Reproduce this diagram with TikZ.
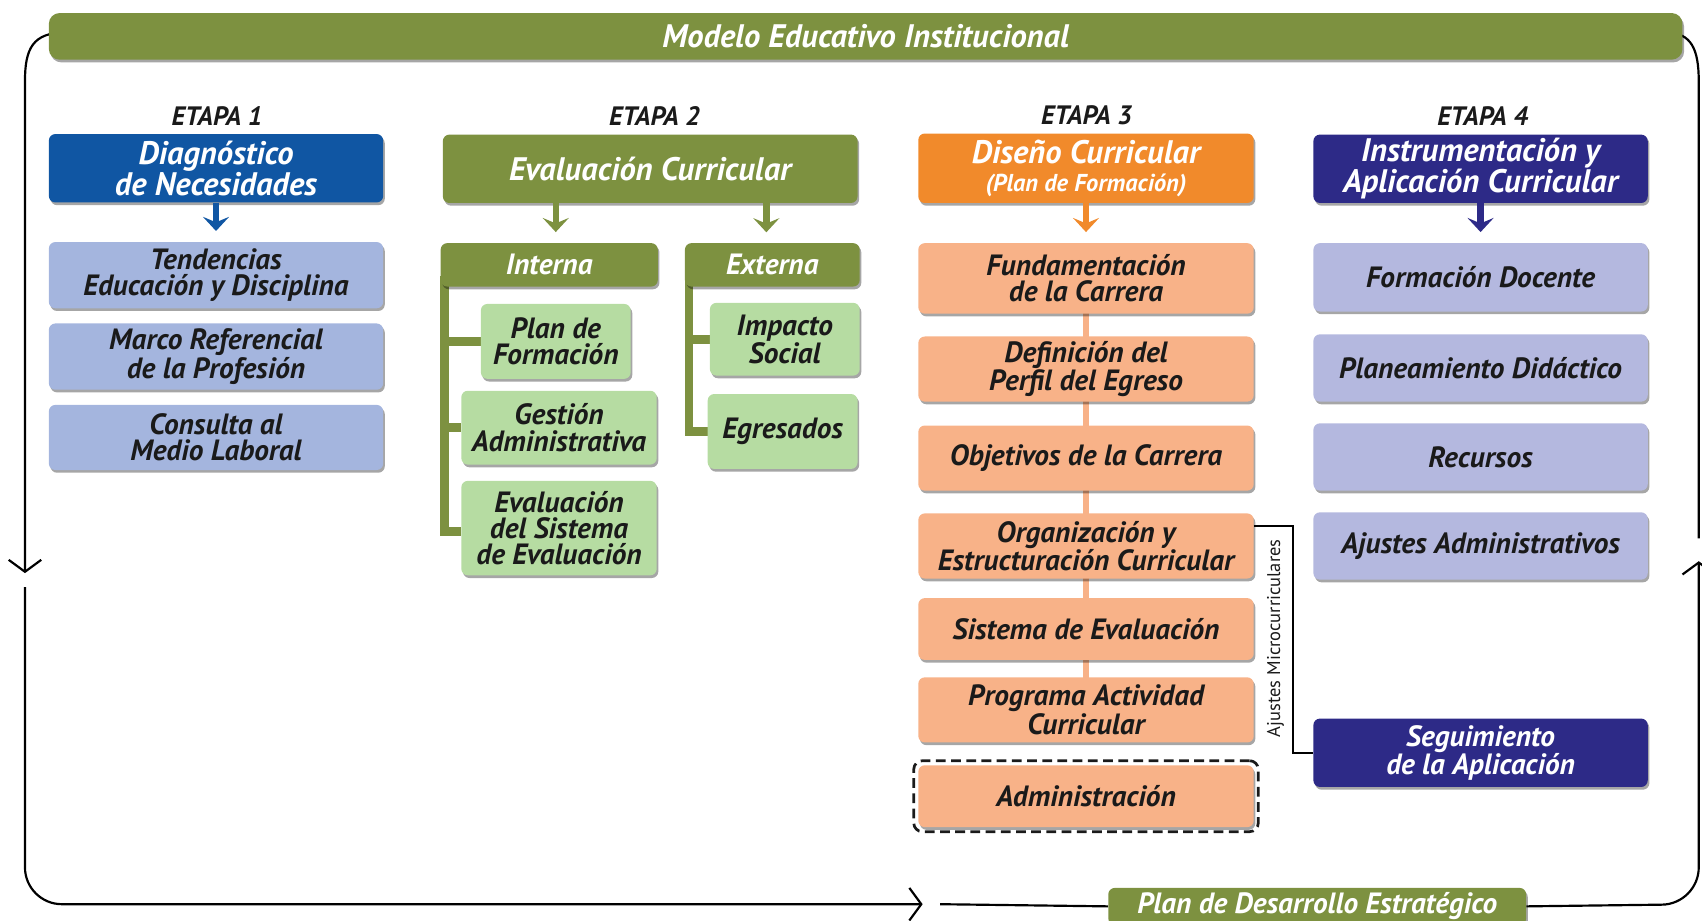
\documentclass[tikz,border=0pt]{standalone}
\usepackage{fontspec}
\setmainfont{PT Sans}
\usetikzlibrary{arrows.meta,shadows,backgrounds,fit}
\definecolor{olive}{RGB}{125,145,64}
\definecolor{diagblue}{RGB}{16,86,163}
\definecolor{lblue}{RGB}{164,181,222}
\definecolor{lgreen}{RGB}{182,220,162}
\definecolor{dorange}{RGB}{241,138,43}
\definecolor{salmon}{RGB}{248,178,136}
\definecolor{navy}{RGB}{45,42,135}
\definecolor{lavender}{RGB}{180,184,223}
\definecolor{ink}{RGB}{26,26,26}
\newcommand\hdrfont{\fontsize{30}{26}\selectfont\bfseries\itshape}
\newcommand\boxfont{\fontsize{27}{24}\selectfont\bfseries\itshape}
\newcommand\etfont{\fontsize{24.5}{26}\selectfont\bfseries\itshape}
\newcommand\tabfont{\fontsize{27}{28}\selectfont\bfseries\itshape}
\newcommand\planfont{\fontsize{27}{28}\selectfont\bfseries\itshape}
\newcommand\ajfont{\fontsize{17}{18}\selectfont}
\tikzset{
  anybox/.style={rounded corners=6pt, align=center, inner sep=2pt,
    drop shadow={shadow xshift=1.5pt, shadow yshift=-2.5pt, fill=black, opacity=0.35}},
  hdr/.style={anybox, text=white, font=\hdrfont},
  sub/.style={anybox, text=ink, font=\boxfont},
  etapa/.style={text=ink, font=\etfont},
  harrow/.style={line width=6pt, shorten >=10pt, -{Stealth[length=13pt,width=24pt,inset=5pt]}},
  gbar/.style={olive, line width=8pt},
  loopline/.style={black, line width=2pt},
  loopend/.style={loopline, -{Straight Barb[length=11pt,width=30pt,line width=2pt]}},
}
\begin{document}
\begin{tikzpicture}[x=1pt,y=-1pt]
\useasboundingbox (0,0) rectangle (1568,848);
% banner
\node[hdr, fill=olive, minimum width=1505pt, minimum height=43pt, rounded corners=10pt] (ban) at (797.5,33.5) {Modelo Educativo Institucional};
% etapas
\node[etapa] (e1) at (200,107) {ETAPA 1};
\node[etapa] (e2) at (603,107) {ETAPA 2};
\node[etapa] (e3) at (1001,106) {ETAPA 3};
\node[etapa] (e4) at (1366,107) {ETAPA 4};
% column 1
\node[hdr, fill=diagblue, minimum width=308pt, minimum height=63pt] (h1) at (199,155) {Diagnóstico\\de Necesidades};
\node[sub, fill=lblue, minimum width=308pt, minimum height=61pt] (t1) at (199,253.5) {Tendencias\\Educación y Disciplina};
\node[sub, fill=lblue, minimum width=308pt, minimum height=61pt] (t2) at (199,328.5) {Marco Referencial\\de la Profesión};
\node[sub, fill=lblue, minimum width=308pt, minimum height=60pt] (t3) at (199,403) {Consulta al\\Medio Laboral};
% column 2
\node[hdr, fill=olive, minimum width=382pt, minimum height=63pt] (h2) at (599,155.5) {Evaluación Curricular};
\node[hdr, fill=olive, minimum width=200pt, minimum height=40pt, font=\tabfont] (int) at (506,244) {Interna};
\node[hdr, fill=olive, minimum width=161pt, minimum height=40pt, font=\tabfont] (ext) at (711.5,244) {Externa};
\node[sub, fill=lgreen, minimum width=138pt, minimum height=69pt] (pf) at (512,314.5) {Plan de\\Formación};
\node[sub, fill=lgreen, minimum width=180pt, minimum height=68pt] (ga) at (515,394) {Gestión\\Administrativa};
\node[sub, fill=lgreen, minimum width=180pt, minimum height=87pt] (es) at (515,486.5) {Evaluación\\del Sistema\\de Evaluación};
\node[sub, fill=lgreen, minimum width=138pt, minimum height=67pt] (im) at (723,312.5) {Impacto\\Social};
\node[sub, fill=lgreen, minimum width=138pt, minimum height=69pt] (eg) at (721,397.5) {Egresados};
% column 3
\node[hdr, fill=dorange, minimum width=309pt, minimum height=64pt] (h3) at (1000.5,155) {Diseño Curricular\\{\fontsize{22.5}{24}\selectfont (Plan de Formación)}};
\node[sub, fill=salmon, minimum width=309pt, minimum height=65pt] (f1) at (1000.5,256.5) {Fundamentación\\de la Carrera};
\node[sub, fill=salmon, minimum width=309pt, minimum height=60pt] (f2) at (1000.5,340) {Definición del\\Perfil del Egreso};
\node[sub, fill=salmon, minimum width=309pt, minimum height=60pt] (f3) at (1000.5,422) {Objetivos de la Carrera};
\node[sub, fill=salmon, minimum width=309pt, minimum height=60pt] (f4) at (1000.5,503) {Organización y\\Estructuración Curricular};
\node[sub, fill=salmon, minimum width=309pt, minimum height=57pt] (f5) at (1000.5,579.5) {Sistema de Evaluación};
\node[sub, fill=salmon, minimum width=309pt, minimum height=60pt] (f6) at (1000.5,654) {Programa Actividad\\Curricular};
\node[sub, fill=salmon, minimum width=309pt, minimum height=57pt] (f7) at (1000.5,733.5) {Administración};
\node[draw=ink, dashed, dash pattern=on 9pt off 5pt, line width=2.5pt, rounded corners=8pt, fit=(f7), inner sep=4pt] (adm) {};
% column 4
\node[hdr, fill=navy, minimum width=308pt, minimum height=63pt] (h4) at (1364,155.5) {Instrumentación y\\Aplicación Curricular};
\node[sub, fill=lavender, minimum width=308pt, minimum height=63pt] (g1) at (1364,255.5) {Formación Docente};
\node[sub, fill=lavender, minimum width=308pt, minimum height=62pt] (g2) at (1364,339) {Planeamiento Didáctico};
\node[sub, fill=lavender, minimum width=308pt, minimum height=62pt] (g3) at (1364,421) {Recursos};
\node[sub, fill=lavender, minimum width=308pt, minimum height=62pt] (g4) at (1364,503) {Ajustes Administrativos};
\node[hdr, fill=navy, minimum width=308pt, minimum height=63pt, font=\boxfont] (seg) at (1364,693.5) {Seguimiento\\de la Aplicación};
% plan box
\node[hdr, fill=olive, minimum width=385pt, minimum height=34pt, font=\planfont] (plan) at (1213.5,835) {Plan de Desarrollo Estratégico};
% header arrows
\draw[harrow, diagblue] (h1.south) -- (t1.north);
\draw[harrow, olive] (h2.south -| pf.north) -- (pf.north |- int.north);
\draw[harrow, olive] (h2.south -| 706,0) -- (706,224);
\draw[harrow, dorange] (h3.south) -- (f1.north);
\draw[harrow, navy] (h4.south) -- (g1.north);
% ajustes microcurriculares bracket
\draw[black, line width=1.8pt] ([yshift=18pt]f4.east) -- ++(36,0) |- (seg.west);
\node[rotate=90, text=ink, font=\ajfont] (aj) at (1175,588) {Ajustes Microcurriculares};
\begin{pgfonlayer}{background}
  % tab bars
  \draw[gbar] ([xshift=4pt,yshift=10pt]int.south west) |- (pf.west);
  \draw[gbar] ([xshift=4pt,yshift=10pt]int.south west) |- (ga.west);
  \draw[gbar] ([xshift=4pt,yshift=10pt]int.south west) |- ([yshift=-3pt]es.west);
  \draw[gbar] ([xshift=4pt,yshift=10pt]ext.south west) |- (im.west);
  \draw[gbar] ([xshift=4pt,yshift=10pt]ext.south west) |- (eg.west);
  % salmon spine
  \draw[salmon, line width=6pt] (f1.center) -- (f6.center);
  % outer loop
  \coordinate (l0) at (60,30);
  \coordinate (l1) at (23,528);
  \coordinate (l2) at (23,541);
  \coordinate (l3) at (850,833);
  \coordinate (l4) at (866,833);
  \coordinate (r1) at (1565,517);
  \coordinate (r2) at (1565,496);
  \coordinate (r0) at (1535,30);
  \draw[loopend] (l0) .. controls (30,30) and (23,45) .. (23,75) -- (l1);
  \draw[loopend, rounded corners=34pt] (l2) -- (23,833) -- (l3);
  \draw[loopline] (l4) -- (plan.west);
  \draw[loopend, rounded corners=34pt] (plan.east) -- (1565,833) -- (r1);
  \draw[loopline] (r2) -- (1565,75) .. controls (1565,45) and (1558,30) .. (r0);
\end{pgfonlayer}
\end{tikzpicture}
\end{document}
